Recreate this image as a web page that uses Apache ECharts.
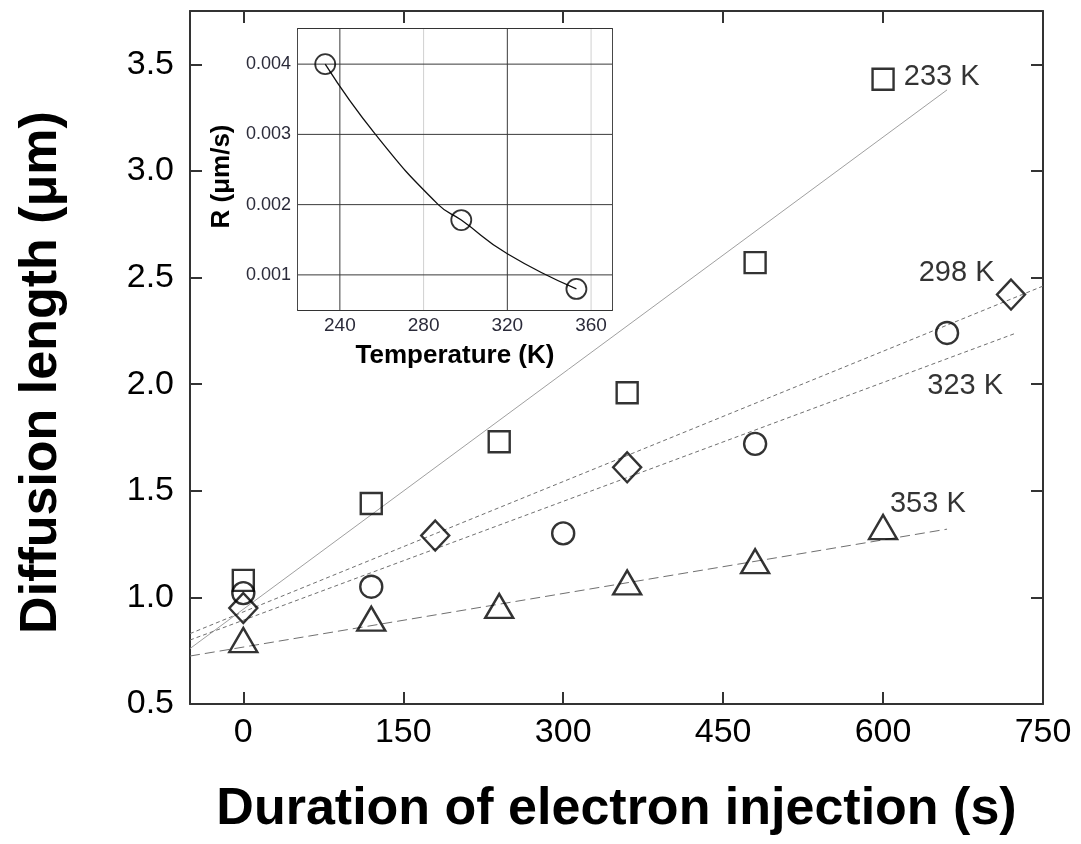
<!DOCTYPE html>
<html>
<head>
<meta charset="utf-8">
<script src="https://cdn.jsdelivr.net/npm/echarts@6.0.0/dist/echarts.min.js"></script>
<style>
html,body{margin:0;padding:0;background:#fff;}
#c{width:1081px;height:844px;}
</style>
</head>
<body>
<div id="c"></div>
<script>
// ---- Main chart data: diffusion length (um) vs duration of electron injection (s)
const sq233  = [[0,1.08],[120,1.44],[240,1.73],[360,1.96],[480,2.57],[600,3.43]];
const dia298 = [[0,0.95],[180,1.29],[360,1.61],[720,2.42]];
const cir323 = [[0,1.02],[120,1.05],[300,1.30],[480,1.72],[660,2.24]];
const tri353 = [[0,0.80],[120,0.90],[240,0.96],[360,1.07],[480,1.17],[600,1.33]];

// linear fit lines (end points)
const fit233 = [[-50,0.76],[660,3.38]];
const fit298 = [[-50,0.83],[750,2.46]];
const fit323 = [[-50,0.80],[725,2.24]];
const fit353 = [[-50,0.725],[660,1.32]];

// temperature annotations
const tempLabels = ['233 K','298 K','323 K','353 K'];
const tempLabelPos = [[655,3.44],[669,2.52],[677,1.99],[642,1.44]];

// axis ticks
const xTicks = [0,150,300,450,600,750];
const yTicks = [0.5,1.0,1.5,2.0,2.5,3.0,3.5];

// ---- Inset: R vs temperature
const insetT = [233,298,353];
const insetR = [0.0040,0.00178,0.00080];
const insetCurve = [[233,0.0040],[257,0.0030],[287,0.0020],[298,0.00178],[320,0.0013],[353,0.00080]];
const insetXTicks = [240,280,320,360];
const insetYTicks = [0.001,0.002,0.003,0.004];
const insetXRange = [220,370];
const insetYRange = [0.0005,0.0045];

const FONT = 'Liberation Sans, Arial, Helvetica, sans-serif';
const chart = echarts.init(document.getElementById('c'), null, {renderer:'canvas'});

const hollow = (c) => ({color:'rgba(0,0,0,0)', borderColor:c, borderWidth:2.4});
const fitLine = (data, type, color) => ({
  type:'line', xAxisIndex:0, yAxisIndex:0, data, showSymbol:false, symbol:'none',
  lineStyle:{color, width:1, type}, silent:true, z:1
});

// inset grid lines as line series built from the tick arrays
const insetGridSeries = [];
insetXTicks.forEach((t,i)=>insetGridSeries.push({
  type:'line', xAxisIndex:2, yAxisIndex:2, silent:true, showSymbol:false, symbol:'none', z:5,
  data:[[t,insetYRange[0]],[t,insetYRange[1]]],
  lineStyle:{color: i%2===0 ? '#3a3a3a' : '#d0d0d0', width:1}
}));
insetYTicks.forEach(v=>insetGridSeries.push({
  type:'line', xAxisIndex:2, yAxisIndex:2, silent:true, showSymbol:false, symbol:'none', z:5,
  data:[[insetXRange[0],v],[insetXRange[1],v]],
  lineStyle:{color:'#3a3a3a', width:1}
}));

const option = {
  animation:false,
  backgroundColor:'#fff',
  textStyle:{fontFamily:FONT},
  grid:[
    {left:190, top:11, right:38, bottom:140, show:false},
    {left:298, top:29, width:314, height:281, show:true, backgroundColor:'#fff', borderWidth:0, z:4}
  ],
  xAxis:[
    {type:'value', gridIndex:0, position:'bottom', min:-50, max:750,
     axisLine:{show:true, onZero:false, lineStyle:{color:'#333', width:2}},
     axisTick:{show:true, inside:true, length:12, customValues:xTicks, lineStyle:{color:'#333', width:2}},
     axisLabel:{show:true, customValues:xTicks, fontSize:34, color:'#000', margin:12, fontFamily:FONT},
     splitLine:{show:false},
     name:'Duration of electron injection (s)', nameLocation:'middle', nameGap:80,
     nameTextStyle:{fontSize:52, fontWeight:'bold', color:'#000', fontFamily:FONT}},
    {type:'value', gridIndex:0, position:'top', min:-50, max:750,
     axisLine:{show:true, onZero:false, lineStyle:{color:'#333', width:2}},
     axisTick:{show:true, inside:true, length:12, customValues:xTicks, lineStyle:{color:'#333', width:2}},
     axisLabel:{show:false}, splitLine:{show:false}},
    {type:'value', gridIndex:1, position:'bottom', min:insetXRange[0], max:insetXRange[1],
     axisLine:{show:true, onZero:false, lineStyle:{color:'#333', width:1.8}},
     axisTick:{show:false},
     axisLabel:{show:true, customValues:insetXTicks, fontSize:19, color:'#2b2b3a', margin:6, fontFamily:FONT},
     splitLine:{show:false},
     name:'Temperature (K)', nameLocation:'middle', nameGap:33,
     nameTextStyle:{fontSize:26, fontWeight:'bold', color:'#000', fontFamily:FONT}},
    {type:'value', gridIndex:1, position:'top', min:insetXRange[0], max:insetXRange[1],
     axisLine:{show:true, onZero:false, lineStyle:{color:'#333', width:1.8}},
     axisTick:{show:false}, axisLabel:{show:false}, splitLine:{show:false}}
  ],
  yAxis:[
    {type:'value', gridIndex:0, position:'left', min:0.5, max:3.75,
     axisLine:{show:true, onZero:false, lineStyle:{color:'#333', width:2}},
     axisTick:{show:true, inside:true, length:12, customValues:yTicks, lineStyle:{color:'#333', width:2}},
     axisLabel:{show:true, customValues:yTicks, fontSize:34, color:'#000', margin:16, fontFamily:FONT,
                formatter:(v)=>v.toFixed(1)},
     splitLine:{show:false},
     name:'Diffusion length (\u03bcm)', nameLocation:'middle', nameGap:122, nameRotate:90,
     nameTextStyle:{fontSize:52, fontWeight:'bold', color:'#000', fontFamily:FONT, padding:[0,30,0,0]}},
    {type:'value', gridIndex:0, position:'right', min:0.5, max:3.75,
     axisLine:{show:true, onZero:false, lineStyle:{color:'#333', width:2}},
     axisTick:{show:true, inside:true, length:12, customValues:yTicks, lineStyle:{color:'#333', width:2}},
     axisLabel:{show:false}, splitLine:{show:false}},
    {type:'value', gridIndex:1, position:'left', min:insetYRange[0], max:insetYRange[1],
     axisLine:{show:true, onZero:false, lineStyle:{color:'#333', width:1.8}},
     axisTick:{show:false},
     axisLabel:{show:true, customValues:insetYTicks, fontSize:18, color:'#2b2b3a', margin:7, fontFamily:FONT,
                formatter:(v)=>v.toFixed(3)},
     splitLine:{show:false},
     name:'R (\u03bcm/s)', nameLocation:'middle', nameGap:63, nameRotate:90,
     nameTextStyle:{fontSize:26, fontWeight:'bold', color:'#000', fontFamily:FONT, padding:[0,14,0,0]}},
    {type:'value', gridIndex:1, position:'right', min:insetYRange[0], max:insetYRange[1],
     axisLine:{show:true, onZero:false, lineStyle:{color:'#333', width:1.8}},
     axisTick:{show:false}, axisLabel:{show:false}, splitLine:{show:false}}
  ],
  series:[
    fitLine(fit233, 'solid', '#a0a0a0'),
    fitLine(fit298, [4,3], '#707070'),
    fitLine(fit323, [4,3], '#707070'),
    fitLine(fit353, [10,5], '#707070'),
    {name:'233 K', type:'scatter', xAxisIndex:0, yAxisIndex:0, data:sq233, symbol:'rect', symbolSize:21, itemStyle:hollow('#000'), z:3},
    {name:'298 K', type:'scatter', xAxisIndex:0, yAxisIndex:0, data:dia298, symbol:'diamond', symbolSize:[28,30], itemStyle:hollow('#000'), z:3},
    {name:'323 K', type:'scatter', xAxisIndex:0, yAxisIndex:0, data:cir323, symbol:'circle', symbolSize:22, itemStyle:hollow('#000'), z:3},
    {name:'353 K', type:'scatter', xAxisIndex:0, yAxisIndex:0, data:tri353, symbol:'triangle', symbolSize:[28,24], itemStyle:hollow('#000'), z:3},
    {type:'scatter', xAxisIndex:0, yAxisIndex:0, silent:true, z:4,
     data: tempLabelPos.map((p,i)=>({value:p, name:tempLabels[i]})),
     symbol:'circle', symbolSize:1, itemStyle:{color:'rgba(0,0,0,0)'},
     label:{show:true, position:'inside', formatter:(p)=>p.name, fontSize:29, color:'#000', fontFamily:FONT}},
    // inset
    ...insetGridSeries,
    {type:'line', xAxisIndex:2, yAxisIndex:2, data:insetCurve, smooth:0.5, showSymbol:false, symbol:'none',
     lineStyle:{color:'#111', width:1.3}, z:6, silent:true},
    {type:'scatter', xAxisIndex:2, yAxisIndex:2, data:insetT.map((t,i)=>[t,insetR[i]]), symbol:'circle', symbolSize:20,
     itemStyle:{color:'rgba(0,0,0,0)', borderColor:'#000', borderWidth:1.8}, z:7}
  ]
};
chart.setOption(option);
</script>
</body>
</html>
